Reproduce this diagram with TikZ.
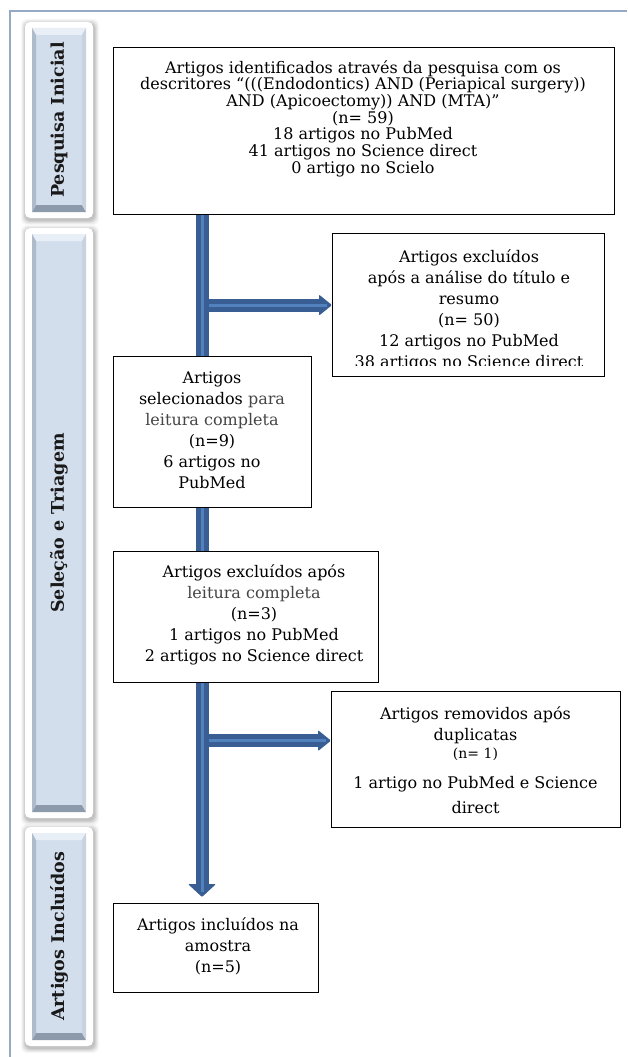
\documentclass[tikz,border=0pt]{standalone}
\usepackage{fontspec}
\setmainfont{DejaVu Serif}
\usetikzlibrary{calc}
\pgfdeclarelayer{bg}
\pgfsetlayers{bg,main}
\definecolor{framec}{HTML}{95A9C5}
\definecolor{adark}{HTML}{385E93}
\definecolor{alight}{HTML}{5282BE}
\definecolor{labfill}{HTML}{D3DEED}
\definecolor{bevtop}{HTML}{E9EFF7}
\definecolor{bevleft}{HTML}{AEBBCB}
\definecolor{bevright}{HTML}{C9D3E0}
\definecolor{bevbot}{HTML}{8D9AAB}
\definecolor{txtgray}{HTML}{454545}
\newcommand\sidelab[6]{%
  \foreach \s/\o in {5/0.03,4/0.04,3/0.05,2/0.06,1/0.07}{
    \fill[black,opacity=\o,rounded corners=6pt] (#1-\s+1,#2-\s+2) rectangle (#3+\s+1,#4+\s+2);}
  \fill[white,rounded corners=5pt] (#1,#2) rectangle (#3,#4);
  \fill[labfill] (#1+7,#2+6) rectangle (#3-7,#4-6);
  \fill[bevtop] (#1+7,#2+6) -- (#3-7,#2+6) -- (#3-11,#2+13) -- (#1+11,#2+13) -- cycle;
  \fill[bevbot] (#1+7,#4-6) -- (#3-7,#4-6) -- (#3-11,#4-13) -- (#1+11,#4-13) -- cycle;
  \fill[bevleft] (#1+7,#2+6) -- (#1+11,#2+13) -- (#1+11,#4-13) -- (#1+7,#4-6) -- cycle;
  \fill[bevright] (#3-7,#2+6) -- (#3-11,#2+13) -- (#3-11,#4-13) -- (#3-7,#4-6) -- cycle;
  \node[labtext] (#5) at ({(#1+#3)/2},{(#2+#4)/2}) {#6};
}
\begin{document}
\begin{tikzpicture}[x=1pt,y=-1pt,
  box/.style={draw=black,line width=1.2pt,fill=white,anchor=north west,inner sep=0pt},
  btext/.style={align=center,inner sep=0pt,font=\fontsize{16}{21}\selectfont},
  labtext/.style={rotate=90,inner sep=0pt,font=\fontsize{17.5}{18}\selectfont\bfseries,text=black!90},
  shaft/.style={draw=adark,line width=13pt},
  stripe/.style={draw=alight,line width=3pt}]
\useasboundingbox (0,0) rectangle (627,1057);
\begin{pgfonlayer}{bg}
\fill[white] (0,0) rectangle (627,1057);
\end{pgfonlayer}
\draw[framec,line width=2pt] (10,1057) -- (10,11) -- (627,11);

\sidelab{25}{22}{93}{218}{lab1}{Pesquisa Inicial}
\sidelab{25}{228}{93}{818}{lab2}{Seleção e Triagem}
\sidelab{25}{827}{93}{1046}{lab3}{Artigos Incluídos}

% boxes
\node[box,minimum width=501pt,minimum height=167pt] (b1) at (113,47) {};
\node[box,minimum width=272pt,minimum height=143pt] (e1) at (332,233) {};
\node[box,minimum width=198pt,minimum height=151pt] (b2) at (113,356) {};
\node[box,minimum width=265pt,minimum height=131pt] (b3) at (113,551) {};
\node[box,minimum width=289pt,minimum height=136pt] (b4) at (331,691) {};
\node[box,minimum width=205pt,minimum height=89pt] (b5) at (113,903) {};

% texts
\node[btext,font=\fontsize{16}{16.7}\selectfont] (t1) at (363,118.5) {Artigos identificados através da pesquisa com os\\
descritores “(((Endodontics) AND (Periapical surgery))\\
AND (Apicoectomy)) AND (MTA)”\\
(n= 59)\\
18 artigos no PubMed\\
41 artigos no Science direct\\
0 artigo no Scielo};
\begin{scope}
\clip (332,233) rectangle (604,365.5);
\node[btext] (te1) at (469,310.5) {Artigos excluídos\\
após a análise do título e\\
resumo\\
(n= 50)\\
12 artigos no PubMed\\
38 artigos no Science direct};
\end{scope}
\node[btext] (t2) at (212,430) {Artigos\\
selecionados \textcolor{txtgray}{para}\\
\textcolor{txtgray}{leitura completa}\\
(n=9)\\
6 artigos no\\
PubMed};
\node[btext] (t3) at (254,614.5) {Artigos excluídos após\\
\textcolor{txtgray}{leitura completa}\\
(n=3)\\
1 artigos no PubMed\\
2 artigos no Science direct};
\node[btext] (t4) at (475.5,760) {Artigos removidos após\\
duplicatas\\[-3pt]
{\fontsize{14}{21}\selectfont(n= 1)}\\[9pt]
1 artigo no PubMed e Science\\[4pt]
direct};
\node[btext] (t5) at (218,946.5) {Artigos incluídos na\\
amostra\\
(n=5)};

% arrows (behind the boxes)
\coordinate (spine) at (202,0);
\coordinate (vtip) at ($(spine |- b5.north)+(0,-6)$);
\coordinate (vbase) at ($(vtip)+(0,-13)$);
\coordinate (h1tip) at (e1.west);
\coordinate (h1base) at ($(h1tip)+(-13,0)$);
\coordinate (h2tip) at ($(b4.west)+(0,-19)$);
\coordinate (h2base) at ($(h2tip)+(-13,0)$);
\begin{pgfonlayer}{bg}
\draw[shaft] (spine |- h1tip) -- (h1base);
\draw[shaft] (spine |- h2tip) -- (h2base);
\draw[shaft] (spine |- b1.south) -- (vbase);
\fill[adark,rounded corners=1pt] ($(vbase)+(-14,0)$) -- ($(vbase)+(14,0)$) -- (vtip) -- cycle;
\fill[adark,rounded corners=1pt] ($(h1base)+(0,-10.5)$) -- ($(h1base)+(0,10.5)$) -- (h1tip) -- cycle;
\fill[adark,rounded corners=1pt] ($(h2base)+(0,-10.5)$) -- ($(h2base)+(0,10.5)$) -- (h2tip) -- cycle;
\draw[stripe] (spine |- b1.south) -- ($(vtip)+(0,-5)$);
\draw[stripe] ($(spine |- h1tip)+(7,0)$) -- ($(h1tip)+(-5,0)$);
\draw[stripe] ($(spine |- h2tip)+(7,0)$) -- ($(h2tip)+(-5,0)$);
\end{pgfonlayer}
\end{tikzpicture}
\end{document}
